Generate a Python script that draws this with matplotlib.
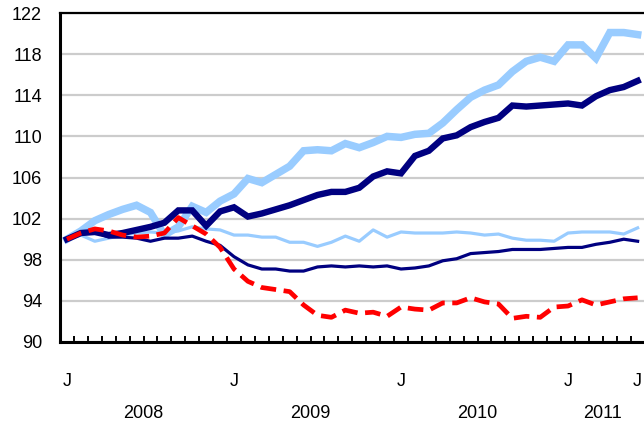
import numpy as np
import matplotlib
matplotlib.use('Agg')
import matplotlib.pyplot as plt
import matplotlib.transforms as mtransforms

plt.rcParams['font.family'] = ['Liberation Sans', 'DejaVu Sans']

# monthly index, Jan 2008 .. Jun 2011 (=100 in Jan 2008)
light_thick = [100.0, 100.8, 101.8, 102.4, 102.9, 103.3, 102.6, 100.4, 101.2, 103.2,
               102.6, 103.7, 104.4, 105.9, 105.5, 106.3, 107.1, 108.6, 108.7, 108.6,
               109.3, 108.9, 109.4, 110.0, 109.9, 110.2, 110.3, 111.3, 112.6, 113.8,
               114.5, 115.0, 116.3, 117.3, 117.7, 117.3, 118.9, 118.9, 117.6, 120.1,
               120.1, 119.9]
navy_thick = [100.0, 100.6, 100.7, 100.4, 100.6, 100.9, 101.2, 101.6, 102.8, 102.8,
              101.3, 102.7, 103.1, 102.2, 102.5, 102.9, 103.3, 103.8, 104.3, 104.6,
              104.6, 105.0, 106.1, 106.6, 106.4, 108.1, 108.6, 109.8, 110.1, 110.9,
              111.4, 111.8, 113.0, 112.9, 113.0, 113.1, 113.2, 113.0, 113.9, 114.5,
              114.8, 115.4]
light_thin = [100.0, 100.4, 99.8, 100.1, 100.4, 100.6, 100.7, 100.6, 100.8, 101.2,
              101.0, 100.9, 100.4, 100.4, 100.2, 100.2, 99.7, 99.7, 99.3, 99.7,
              100.3, 99.8, 100.9, 100.2, 100.7, 100.6, 100.6, 100.6, 100.7, 100.6,
              100.4, 100.5, 100.1, 99.9, 99.9, 99.8, 100.6, 100.7, 100.7, 100.7,
              100.5, 101.1]
navy_thin = [100.0, 100.6, 100.7, 100.2, 100.2, 100.1, 99.8, 100.1, 100.1, 100.3,
             99.8, 99.4, 98.3, 97.5, 97.1, 97.1, 96.9, 96.9, 97.3, 97.4,
             97.3, 97.4, 97.3, 97.4, 97.1, 97.2, 97.4, 97.9, 98.1, 98.6,
             98.7, 98.8, 99.0, 99.0, 99.0, 99.1, 99.2, 99.2, 99.5, 99.7,
             100.0, 99.8]
red_dash = [100.0, 100.6, 101.0, 100.8, 100.4, 100.2, 100.3, 100.6, 102.1, 101.3,
            100.5, 99.2, 97.1, 95.9, 95.3, 95.1, 94.9, 93.6, 92.6, 92.4,
            93.1, 92.8, 92.9, 92.5, 93.4, 93.2, 93.1, 93.8, 93.8, 94.3,
            93.9, 93.7, 92.3, 92.5, 92.4, 93.4, 93.5, 94.1, 93.6, 93.9,
            94.2, 94.3]

month_labels = ['J', 'J', 'J', 'J', 'J']
month_label_pos = [0, 12, 24, 36, 41]
years = ['2008', '2009', '2010', '2011']
year_pos = [5.5, 17.5, 29.5, 38.5]

x = np.arange(len(light_thick))

fig = plt.figure(figsize=(6.44, 4.28), dpi=100)
ax = fig.add_axes([60/644, 86/428, 584.6/644, 329/428])

ax.plot(x, light_thick, color='#99CCFF', lw=5.4, solid_joinstyle='miter', zorder=3)
ax.plot(x, light_thin, color='#99CCFF', lw=2.3, zorder=4)
ax.plot(x, navy_thin, color='#000080', lw=2.3, zorder=5)
ax.plot(x, navy_thick, color='#000080', lw=4.6, solid_joinstyle='miter', zorder=6)
ax.plot(x, red_dash, color='#FF0000', lw=3.4, dashes=(3.3, 1.6), zorder=7)

ax.set_xlim(-0.5, 41.5)
ax.set_ylim(90, 122)
ax.set_yticks(np.arange(90, 123, 4))
ax.yaxis.grid(True, color='#CCCCCC', lw=1.6)
ax.set_axisbelow(True)
ax.tick_params(axis='y', length=0, pad=13, labelsize=13)

# tick marks between months, labels on the months
ax.set_xticks(np.arange(0.5, 41, 1))
ax.set_xticklabels([])
ax.tick_params(axis='x', which='major', direction='in', length=4, width=1.4)
ax.set_xticks(month_label_pos, minor=True)
ax.set_xticklabels(month_labels, minor=True)
ax.tick_params(axis='x', which='minor', length=0, pad=22, labelsize=13)

trans = mtransforms.blended_transform_factory(ax.transData, ax.transAxes)
for yr, pos in zip(years, year_pos):
    ax.text(pos, -0.216, yr, transform=trans, ha='center', va='center', fontsize=13)

ax.spines['right'].set_visible(False)
ax.spines['left'].set_linewidth(2.2)
ax.spines['bottom'].set_linewidth(2.2)
ax.spines['top'].set_linewidth(1.6)

fig.savefig('out.png', dpi=100)
